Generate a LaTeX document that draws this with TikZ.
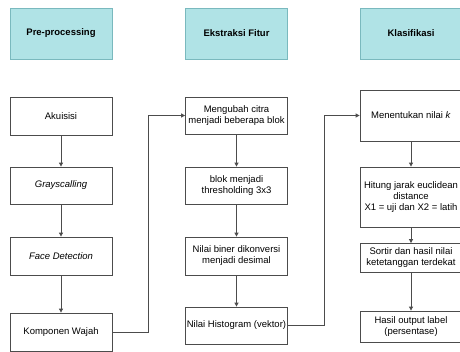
\documentclass[tikz,border=0pt]{standalone}
\usepackage{fontspec}
\setmainfont{Liberation Sans}
\usetikzlibrary{arrows.meta,positioning}
\definecolor{hdcyan}{HTML}{B0E3E6}
\definecolor{hdteal}{HTML}{0E8088}

\begin{document}
\begin{tikzpicture}[x=1pt,y=-1pt,>={Triangle[length=4pt,width=4pt]},
  font=\fontsize{9.5}{11}\selectfont,
  stepbox/.style={draw=black!70,line width=0.8pt,fill=white,minimum width=102pt,
    align=center,inner sep=1pt},
  headbox/.style={stepbox,draw=hdteal!55,fill=hdcyan,minimum height=51pt,
    font=\fontsize{9.5}{11}\selectfont\bfseries},
  flow/.style={->,draw=black!70,line width=0.8pt}]
  \useasboundingbox (0,0) rectangle (460,351);
  % headers
  \node[headbox] (hpre) at (61,33.5) {Pre-processing};
  \node[headbox] (heks) at (236.5,33.5) {Ekstraksi Fitur};
  \node[headbox] (hkla) at (411,33.5) {Klasifikasi};
  % pre-processing
  \node[stepbox,minimum height=38pt] (akui) at (61,116) {Akuisisi};
  \node[stepbox,minimum height=37pt] (gray) at (61,185.5) {\itshape Grayscalling};
  \node[stepbox,minimum height=38pt] (face) at (61,256) {\itshape Face Detection};
  \node[stepbox,minimum height=38pt] (komp) at (61,332) {Komponen Wajah};
  % ekstraksi fitur
  \node[stepbox,minimum height=37pt] (meng) at (236.5,115.5) {Mengubah citra\\menjadi beberapa blok};
  \node[stepbox,minimum height=37pt] (blok) at (236.5,185.5) {blok menjadi\\thresholding 3x3};
  \node[stepbox,minimum height=38pt] (bine) at (236.5,256) {Nilai biner dikonversi\\menjadi desimal};
  \node[stepbox,minimum height=37pt] (hist) at (236.5,325.5) {Nilai Histogram (vektor)};
  % klasifikasi
  \node[stepbox,minimum height=51pt] (ment) at (411,115.5) {Menentukan nilai \textit{k}};
  \node[stepbox,minimum height=60pt] (hitu) at (411,197) {Hitung jarak euclidean\\distance\\X1 = uji dan X2 = latih};
  \node[stepbox,minimum height=29pt] (sort) at (411,258) {Sortir dan hasil nilai\\ketetanggan terdekat};
  \node[stepbox,minimum height=31pt] (hasi) at (411,326.5) {Hasil output label\\(persentase)};
  % connectors
  \draw[flow] (akui) -- (gray);
  \draw[flow] (gray) -- (face);
  \draw[flow] (face) -- (komp);
  \draw[flow] (meng) -- (blok);
  \draw[flow] (blok) -- (bine);
  \draw[flow] (bine) -- (hist);
  \draw[flow] (ment) -- (hitu);
  \draw[flow] (hitu) -- (sort);
  \draw[flow] (sort) -- (hasi);
  \coordinate (bendA) at (148,115.5);
  \coordinate (bendB) at (324,115.5);
  \draw[flow] (komp.east) -| (bendA) -- (meng.west);
  \draw[flow] (hist.east) -| (bendB) -- (ment.west);
\end{tikzpicture}
\end{document}
